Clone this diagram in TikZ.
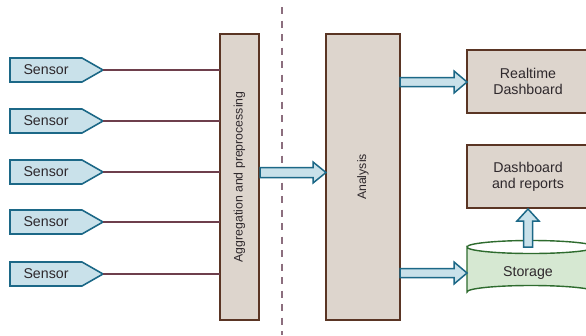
\documentclass[tikz,border=0pt]{standalone}
\usepackage{fontspec}
\setmainfont{Liberation Sans}
\definecolor{sensfill}{HTML}{C9E1EA}
\definecolor{sensdraw}{HTML}{1C6887}
\definecolor{boxfill}{HTML}{DDD5CD}
\definecolor{boxdraw}{HTML}{5A3524}
\definecolor{wire}{HTML}{6E3F4C}
\definecolor{divider}{HTML}{8C6E7E}
\definecolor{storfill}{HTML}{D6E8D2}
\definecolor{stordraw}{HTML}{2E6B2E}
\definecolor{txt}{HTML}{2E282C}
\tikzset{
  sensorbox/.style={draw=sensdraw, fill=sensfill, line width=1.6pt},
  procbox/.style={draw=boxdraw, fill=boxfill, line width=1.4pt},
  wireline/.style={draw=wire, line width=1.1pt},
  fatarrow/.style={draw=sensdraw, fill=sensfill, line width=1.5pt, line join=miter},
  lbl/.style={text=txt, font=\fontsize{14.2}{15.5}\selectfont, align=center, inner sep=0pt},
  vlbl/.style={text=txt, font=\fontsize{12.3}{14}\selectfont, rotate=90, inner sep=0pt}
}
\begin{document}
\begin{tikzpicture}[x=1pt,y=-1pt]
\useasboundingbox (0,0) rectangle (586,335);
\fill[white] (0,0) rectangle (586,335);

% dashed divider between the two stages
\draw[divider, line width=2.7pt, dash pattern=on 7pt off 6.5pt] (282,7) -- (282,335);

% sensors, as pentagons pointing right
\foreach \i/\y in {1/70,2/121,3/172,4/222,5/274}{
  \draw[sensorbox] (10,\y-12) -- (82,\y-12) -- (103,\y) -- (82,\y+12) -- (10,\y+12) -- cycle;
  \node[lbl] (s\i) at (46,\y) {Sensor};
  \coordinate (t\i) at (103,\y);
}

% aggregation column
\draw[procbox] (220,34) rectangle (259,320);
\node[vlbl] (agg) at (239.5,177) {Aggregation and preprocessing};
\coordinate (aggL) at (220,0);

\foreach \i in {1,...,5}{
  \draw[wireline] (t\i) -- (aggL |- t\i);
}

% analysis column
\draw[procbox] (326,34) rectangle (400,320);
\node[vlbl] (ana) at (363,177) {Analysis};

% output boxes
\draw[procbox] (467,50) rectangle (592,113);
\node[lbl] (rt) at (528,81.5) {Realtime\\Dashboard};
\draw[procbox] (467,145) rectangle (592,208);
\node[lbl] (rep) at (528,177) {Dashboard\\and reports};

% storage cylinder
\draw[draw=stordraw, fill=storfill, line width=1.4pt]
  (467,247) -- (467,292) arc[start angle=180, end angle=360, x radius=64, y radius=6.5]
  -- (595,247) arc[start angle=0, end angle=180, x radius=64, y radius=6.5] -- cycle;
\draw[draw=stordraw, line width=1.4pt] (467,247) arc[start angle=180, end angle=360, x radius=64, y radius=6.5];
\node[lbl] (sto) at (528,273) {Storage};

% block arrows
% aggregation -> analysis
\draw[fatarrow] (260,167.5) -- (313,167.5) -- (313,162) -- (326,172.5) -- (313,183) -- (313,177.5) -- (260,177.5) -- cycle;
% analysis -> realtime dashboard
\draw[fatarrow] (400,77.5) -- (454,77.5) -- (454,71) -- (467,82) -- (454,93) -- (454,86.5) -- (400,86.5) -- cycle;
% analysis -> storage
\draw[fatarrow] (400,268.5) -- (454,268.5) -- (454,262) -- (467,273) -- (454,284) -- (454,277.5) -- (400,277.5) -- cycle;
% storage -> dashboard and reports
\draw[fatarrow] (523.5,247) -- (523.5,221) -- (517,221) -- (528,209) -- (539,221) -- (532.5,221) -- (532.5,247) -- cycle;
\end{tikzpicture}
\end{document}
